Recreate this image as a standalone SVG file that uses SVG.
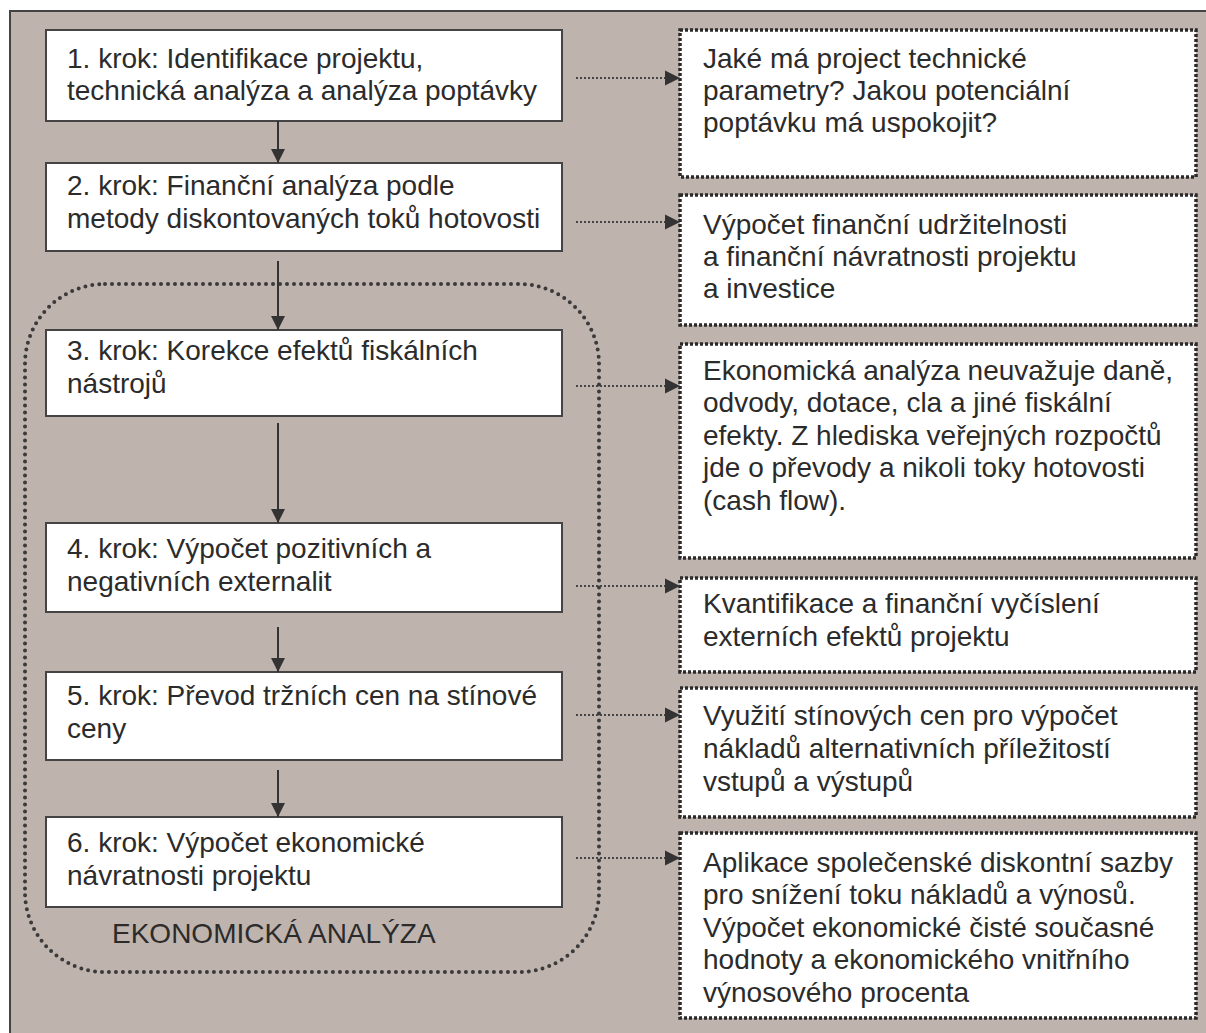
<svg xmlns="http://www.w3.org/2000/svg" width="1206" height="1033" viewBox="0 0 1206 1033">
<defs>
<marker id="ah" markerUnits="userSpaceOnUse" markerWidth="16" markerHeight="14" refX="14" refY="7" orient="auto"><path d="M0,0 L14,7 L0,14 z" fill="#333"/></marker>
<marker id="ahd" markerUnits="userSpaceOnUse" markerWidth="16" markerHeight="16" refX="15" refY="8" orient="auto"><path d="M0,0.5 L15,8 L0,15.5 z" fill="#333"/></marker>
</defs>
<style>
.bg{fill:#bfb3ae;stroke:#444;stroke-width:2}
.step{fill:#fff;stroke:#444;stroke-width:2}
.note{fill:#fff;stroke:#2a2a2a;stroke-width:3.5;stroke-dasharray:3 2}
.grp{fill:none;stroke:#3a3a3a;stroke-width:4;stroke-linecap:round;stroke-dasharray:0 7}
.t{font-family:"Liberation Sans",Arial,sans-serif;font-size:28px;fill:#2b2b2b}
.sol{stroke:#333;stroke-width:2;fill:none}
.dot{stroke:#444;stroke-width:1.8;stroke-dasharray:2 2;fill:none}
</style>
<rect class="bg" x="10" y="11" width="1210" height="1040"/>
<g id="group-ekonomicka">
<rect class="grp" x="25" y="284" width="574" height="688" rx="80" ry="80"/>
<text class="t" x="112" y="943">EKONOMICKÁ ANALÝZA</text>
</g>
<g id="step1"><rect class="step" x="46" y="30" width="516" height="91"/>
<text class="t" x="67" y="68">1. krok: Identifikace projektu,</text>
<text class="t" x="67" y="100">technická analýza a analýza poptávky</text></g>
<g id="step2"><rect class="step" x="46" y="163" width="516" height="88"/>
<text class="t" x="67" y="195">2. krok: Finanční analýza podle</text>
<text class="t" x="67" y="228">metody diskontovaných toků hotovosti</text></g>
<g id="step3"><rect class="step" x="46" y="330" width="516" height="86"/>
<text class="t" x="67" y="360">3. krok: Korekce efektů fiskálních</text>
<text class="t" x="67" y="393">nástrojů</text></g>
<g id="step4"><rect class="step" x="46" y="523" width="516" height="89"/>
<text class="t" x="67" y="558">4. krok: Výpočet pozitivních a</text>
<text class="t" x="67" y="591">negativních externalit</text></g>
<g id="step5"><rect class="step" x="46" y="672" width="516" height="88"/>
<text class="t" x="67" y="705">5. krok: Převod tržních cen na stínové</text>
<text class="t" x="67" y="738">ceny</text></g>
<g id="step6"><rect class="step" x="46" y="817" width="516" height="90"/>
<text class="t" x="67" y="852">6. krok: Výpočet ekonomické</text>
<text class="t" x="67" y="885">návratnosti projektu</text></g>
<g id="note1"><rect class="note" x="680" y="30" width="516" height="147"/>
<text class="t" x="703" y="68">Jaké má project technické</text>
<text class="t" x="703" y="100">parametry? Jakou potenciální</text>
<text class="t" x="703" y="132">poptávku má uspokojit?</text></g>
<g id="note2"><rect class="note" x="680" y="195" width="516" height="130"/>
<text class="t" x="703" y="234">Výpočet finanční udržitelnosti</text>
<text class="t" x="703" y="266">a finanční návratnosti projektu</text>
<text class="t" x="703" y="298">a investice</text></g>
<g id="note3"><rect class="note" x="680" y="344" width="516" height="214"/>
<text class="t" x="703" y="380">Ekonomická analýza neuvažuje daně,</text>
<text class="t" x="703" y="412">odvody, dotace, cla a jiné fiskální</text>
<text class="t" x="703" y="445">efekty. Z hlediska veřejných rozpočtů</text>
<text class="t" x="703" y="477">jde o převody a nikoli toky hotovosti</text>
<text class="t" x="703" y="510">(cash flow).</text></g>
<g id="note4"><rect class="note" x="680" y="578" width="516" height="94"/>
<text class="t" x="703" y="613">Kvantifikace a finanční vyčíslení</text>
<text class="t" x="703" y="646">externích efektů projektu</text></g>
<g id="note5"><rect class="note" x="680" y="688" width="516" height="129"/>
<text class="t" x="703" y="725">Využití stínových cen pro výpočet</text>
<text class="t" x="703" y="758">nákladů alternativních příležitostí</text>
<text class="t" x="703" y="791">vstupů a výstupů</text></g>
<g id="note6"><rect class="note" x="680" y="833" width="516" height="185"/>
<text class="t" x="703" y="872">Aplikace společenské diskontní sazby</text>
<text class="t" x="703" y="904">pro snížení toku nákladů a výnosů.</text>
<text class="t" x="703" y="937">Výpočet ekonomické čisté současné</text>
<text class="t" x="703" y="969">hodnoty a ekonomického vnitřního</text>
<text class="t" x="703" y="1002">výnosového procenta</text></g>
<g id="connectors">
<line class="sol" x1="278" y1="121" x2="278" y2="163" marker-end="url(#ah)"/>
<line class="sol" x1="278" y1="261" x2="278" y2="330" marker-end="url(#ah)"/>
<line class="sol" x1="278" y1="423" x2="278" y2="523" marker-end="url(#ah)"/>
<line class="sol" x1="278" y1="627" x2="278" y2="672" marker-end="url(#ah)"/>
<line class="sol" x1="278" y1="770" x2="278" y2="817" marker-end="url(#ah)"/>
<line class="dot" x1="576" y1="78" x2="680" y2="78" marker-end="url(#ahd)"/>
<line class="dot" x1="576" y1="222" x2="680" y2="222" marker-end="url(#ahd)"/>
<line class="dot" x1="576" y1="386" x2="680" y2="386" marker-end="url(#ahd)"/>
<line class="dot" x1="576" y1="586" x2="680" y2="586" marker-end="url(#ahd)"/>
<line class="dot" x1="576" y1="715" x2="680" y2="715" marker-end="url(#ahd)"/>
<line class="dot" x1="576" y1="858" x2="680" y2="858" marker-end="url(#ahd)"/>
</g>
</svg>
